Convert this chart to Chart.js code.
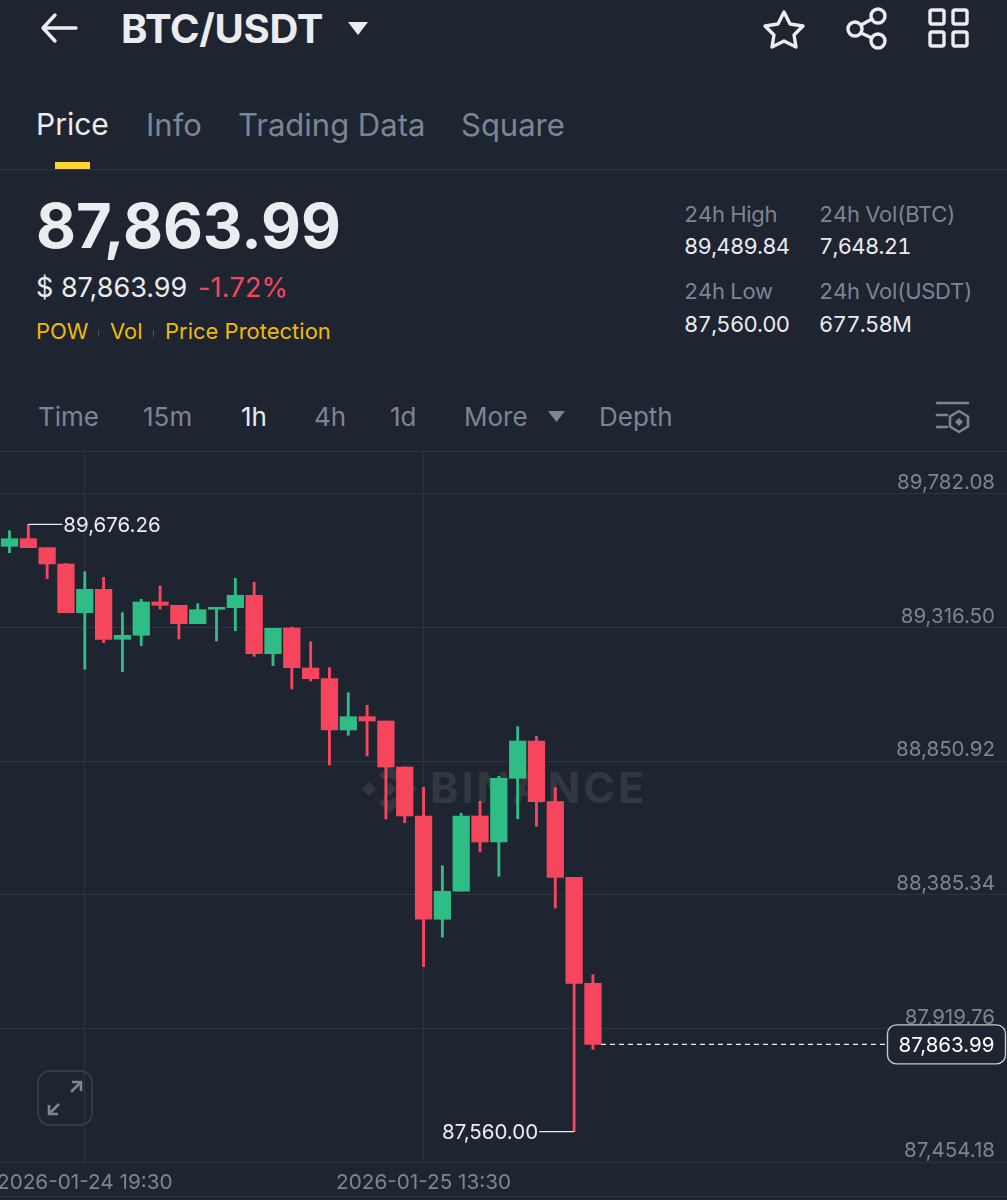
<!DOCTYPE html>
<html>
<head>
<meta charset="utf-8">
<title>BTC/USDT</title>
<script src="https://cdn.jsdelivr.net/npm/chart.js@4/dist/chart.umd.min.js"></script>
<style>
  html, body { margin: 0; padding: 0; background: #1f2530; }
  body { position: relative; width: 1007px; height: 1200px; overflow: hidden; font-family: Inter, sans-serif; }
  .t { position: absolute; white-space: nowrap; line-height: 1; transform: translateY(-50%); }
  .grey { color: #7d8492; }
  .white { color: #eaecef; }
  .yellow { color: #f0b90b; }
  .line { position: absolute; left: 0; width: 1007px; height: 1px; background: #2e343f; }
  svg { position: absolute; overflow: visible; }
  canvas { position: absolute; left: 0; top: 451px; display: block; }
  .tab { font-size: 31px; top: 124px; }
  .res { font-size: 26px; top: 417px; }
  .stat { font-size: 22px; font-variant-numeric: tabular-nums; letter-spacing: -0.3px; }
  .stat.white { letter-spacing: -0.7px; }
</style>
</head>
<body>
<svg style="left:0;top:0" width="1007" height="451" fill="none" stroke="#eaecef" stroke-width="3.4" stroke-linecap="round" stroke-linejoin="round">
  <path d="M76 28H43M55 15L43 28L55 41"/>
  <path d="M348 22H368L358 35Z" fill="#eaecef" stroke="none"/>
  <path d="M784 12L790 24L803 26L794 35L796 47L784 41L772 47L774 35L765 26L778 24Z"/>
  <circle cx="855" cy="29" r="7"/><circle cx="878" cy="16" r="7"/><circle cx="878" cy="41" r="7"/>
  <path d="M861 25L872 19M861 33L872 38"/>
  <rect x="930" y="10" width="14" height="14" rx="2"/><rect x="953" y="10" width="14" height="14" rx="2"/>
  <rect x="930" y="32" width="14" height="14" rx="2"/><rect x="953" y="32" width="14" height="14" rx="2"/>
  <path d="M548 411H565L556.5 422Z" fill="#7d8492" stroke="none"/>
  <g stroke="#7d8492" stroke-width="2.6">
    <path d="M937 403H968M937 415H947M937 427H947"/>
    <path d="M959 411L968 416.5V426.5L959 432L950 426.5V416.5Z"/>
  </g>
  <path d="M959 418L963 422L959 426L955 422Z" fill="#7d8492" stroke="none"/>
</svg>

<div class="t white" style="left:121px;top:29px;font-size:40px;font-weight:700;letter-spacing:-0.3px">BTC/USDT</div>
<div class="t tab white" style="left:36px;font-size:30px">Price</div>
<div class="t tab grey" style="left:146px">Info</div>
<div class="t tab grey" style="left:238px">Trading Data</div>
<div class="t tab grey" style="left:461px">Square</div>
<div style="position:absolute;left:55px;top:162px;width:35px;height:7px;background:#fcd535"></div>
<div class="line" style="top:169px"></div>

<div class="t white" style="left:36px;top:226px;font-size:61.5px;font-weight:700">87,863.99</div>
<div class="t white" style="left:36px;top:287px;font-size:27px">$ 87,863.99</div>
<div class="t" style="left:198px;top:287px;font-size:27px;letter-spacing:0.2px;color:#f6465d">-1.72%</div>
<div class="t yellow" style="left:36px;top:331px;font-size:22px">POW</div>
<div class="t yellow" style="left:110px;top:331px;font-size:22px">Vol</div>
<div class="t yellow" style="left:165px;top:331px;font-size:22px">Price Protection</div>
<div style="position:absolute;left:98px;top:330px;width:1px;height:7px;background:#4a505c"></div>
<div style="position:absolute;left:153px;top:330px;width:1px;height:7px;background:#4a505c"></div>

<div class="t stat grey" style="left:684px;top:214px">24h High</div>
<div class="t stat grey" style="left:819px;top:214px">24h Vol(BTC)</div>
<div class="t stat white" style="left:684px;top:246px">89,489.84</div>
<div class="t stat white" style="left:819px;top:246px">7,648.21</div>
<div class="t stat grey" style="left:684px;top:291px">24h Low</div>
<div class="t stat grey" style="left:819px;top:291px">24h Vol(USDT)</div>
<div class="t stat white" style="left:684px;top:324px">87,560.00</div>
<div class="t stat white" style="left:819px;top:324px">677.58M</div>

<div class="t res grey" style="left:38px">Time</div>
<div class="t res grey" style="left:143px">15m</div>
<div class="t res white" style="left:241px">1h</div>
<div class="t res grey" style="left:314px">4h</div>
<div class="t res grey" style="left:390px">1d</div>
<div class="t res grey" style="left:464px">More</div>
<div class="t res grey" style="left:599px">Depth</div>
<div class="line" style="top:451px"></div>
<div class="line" style="top:1196px"></div>

<!-- watermark sits under the canvas -->
<svg style="left:362px;top:765px" width="56" height="50" fill="#323842">
  <path d="M27.5 0L38 10L32 16L27.5 11.5L23 16L17 10Z"/>
  <path d="M27.5 48L38 38L32 32L27.5 36.5L23 32L17 38Z"/>
  <path d="M7 17L14 24L7 31L0 24Z"/><path d="M48 17L55 24L48 31L41 24Z"/>
  <path d="M27.5 17L34.5 24L27.5 31L20.5 24Z"/>
</svg>
<div class="t" style="left:430px;top:787px;font-size:43px;font-weight:700;letter-spacing:3px;color:#323842">BINANCE</div>

<canvas id="klineChart" width="1007" height="749"></canvas>

<div style="position:absolute;left:37px;top:1070px;width:52px;height:52px;border:2px solid #353b46;border-radius:13px"></div>
<svg style="left:37px;top:1070px" width="56" height="56" fill="none" stroke="#7d8492" stroke-width="2.6">
  <path d="M22 34L12 44M12 35V44H21M34 22L44 12M35 12H44V21"/>
</svg>

<script>
const BG_COLOR = '#1f2530';
const GRID_COLOR = '#2e343f';
const UP_COLOR = '#2ebd85';
const DOWN_COLOR = '#f6465d';
const AXIS_TEXT = '#7d8492';
const LABEL_TEXT = '#eaecef';
const FONT = 'Inter, sans-serif';

const opens = [89599.8, 89626.3, 89595.0, 89538.2, 89368.4, 89450.0, 89275.7, 89289.7, 89405.7, 89394.2, 89330.1, 89380.3, 89385.9, 89429.1, 89225.6, 89315.1, 89175.7, 89138.4, 88959.7, 89006.0, 88991.0, 88830.7, 88660.0, 88300.0, 88397.6, 88660.0, 88569.4, 88791.3, 88921.3, 88709.8, 88446.3, 88076.9];
const closes = [89626.3, 89595.0, 89538.2, 89368.4, 89450.0, 89275.7, 89289.7, 89405.7, 89394.2, 89330.1, 89378.9, 89387.3, 89429.1, 89225.6, 89314.1, 89176.8, 89138.4, 88959.7, 89006.0, 88991.0, 88830.7, 88660.0, 88300.0, 88397.6, 88660.0, 88569.4, 88791.3, 88921.3, 88709.8, 88446.3, 88076.9, 87863.99];
const highs = [89654.2, 89676.26, 89595.0, 89539.9, 89511.3, 89491.8, 89368.4, 89415.1, 89461.5, 89394.2, 89399.8, 89387.3, 89488.3, 89474.4, 89314.1, 89318.6, 89267.4, 89176.8, 89089.6, 89045.7, 88991.0, 88830.7, 88760.0, 88486.8, 88669.4, 88711.2, 88798.3, 88971.2, 88937.7, 88758.6, 88446.3, 88106.9];
const lows = [89577.5, 89595.0, 89486.9, 89368.4, 89171.2, 89263.9, 89162.8, 89253.4, 89381.3, 89276.8, 89330.1, 89269.8, 89305.7, 89216.5, 89183.7, 89102.5, 89130.4, 88837.7, 88941.2, 88869.1, 88649.5, 88636.6, 88134.8, 88238.3, 88397.6, 88534.5, 88449.8, 88650.5, 88624.1, 88339.4, 87560.00, 87846.9];

const priceTicks = [89782.08, 89316.50, 88850.92, 88385.34, 87919.76, 87454.18];
const timeTickIndexes = [4, 22];
const timeTickLabels = ['2026-01-24 19:30', '2026-01-25 13:30'];
const highMark = { index: 1, value: 89676.26 };
const lowMark = { index: 30, value: 87560.00 };
const lastPrice = 87863.99;

function money(v) {
    return v.toLocaleString('en-US', { minimumFractionDigits: 2, maximumFractionDigits: 2 });
}

const candleColors = opens.map((o, i) => closes[i] >= o ? UP_COLOR : DOWN_COLOR);

const markersPlugin = {
    id: 'markers',
    afterDatasetsDraw(chart) {
        const { ctx, scales: { x, y } } = chart;
        ctx.save();
        ctx.font = '20.5px ' + FONT;
        ctx.textBaseline = 'middle';

        // high marker
        const hx = x.getPixelForValue(highMark.index);
        const hy = y.getPixelForValue(highMark.value);
        ctx.strokeStyle = LABEL_TEXT;
        ctx.lineWidth = 1.2;
        ctx.beginPath();
        ctx.moveTo(hx, hy);
        ctx.lineTo(hx + 34, hy);
        ctx.stroke();
        ctx.fillStyle = LABEL_TEXT;
        ctx.textAlign = 'left';
        ctx.fillText(money(highMark.value), hx + 35, hy + 1);

        // low marker
        const lx = x.getPixelForValue(lowMark.index);
        const ly = y.getPixelForValue(lowMark.value);
        ctx.beginPath();
        ctx.moveTo(lx, ly);
        ctx.lineTo(lx - 35, ly);
        ctx.stroke();
        ctx.textAlign = 'right';
        ctx.fillText(money(lowMark.value), lx - 36, ly + 1);

        // last price line and box
        const px = x.getPixelForValue(opens.length - 1) + 8;
        const py = y.getPixelForValue(lastPrice);
        ctx.setLineDash([5, 4]);
        ctx.beginPath();
        ctx.moveTo(px, py);
        ctx.lineTo(887, py);
        ctx.stroke();
        ctx.setLineDash([]);
        ctx.beginPath();
        ctx.roundRect(887.5, py - 19.5, 118, 39, 9);
        ctx.fillStyle = BG_COLOR;
        ctx.fill();
        ctx.strokeStyle = '#c5c9d0';
        ctx.lineWidth = 1.4;
        ctx.stroke();
        ctx.fillStyle = '#ffffff';
        ctx.textAlign = 'center';
        ctx.fillText(money(lastPrice), 946.5, py + 1);
        ctx.restore();
    }
};

new Chart(document.getElementById('klineChart'), {
    type: 'bar',
    data: {
        datasets: [
            {
                label: 'Wick',
                data: opens.map((_, i) => ({ x: i, y: [lows[i], highs[i]] })),
                backgroundColor: candleColors,
                barThickness: 2.2,
                grouped: false,
                order: 2
            },
            {
                label: 'Body',
                data: opens.map((o, i) => ({ x: i, y: [o, closes[i]] })),
                backgroundColor: candleColors,
                barThickness: 16.6,
                grouped: false,
                order: 1
            }
        ]
    },
    options: {
        responsive: false,
        animation: false,
        layout: { padding: 0 },
        plugins: { legend: { display: false }, title: { display: false }, tooltip: { enabled: false } },
        scales: {
            x: {
                type: 'linear',
                offset: false,
                min: -0.505,
                max: 53,
                border: { display: false },
                grid: { color: GRID_COLOR, lineWidth: 1, drawTicks: false, offset: false },
                ticks: {
                    color: AXIS_TEXT,
                    font: { family: FONT, size: 20.7 },
                    padding: 8,
                    autoSkip: false,
                    maxRotation: 0,
                    minRotation: 0,
                    callback: value => timeTickLabels[timeTickIndexes.indexOf(value)]
                },
                afterBuildTicks: scale => { scale.ticks = timeTickIndexes.map(value => ({ value })); },
                afterFit: scale => { scale.height = 38; scale.paddingLeft = 0; scale.paddingRight = 0; }
            },
            y: {
                position: 'right',
                min: 87454.18,
                max: 89931.9,
                border: { display: false },
                grid: { color: GRID_COLOR, lineWidth: 1, drawTicks: false },
                ticks: {
                    color: AXIS_TEXT,
                    font: { family: FONT, size: 20.5 },
                    mirror: true,
                    padding: -12,
                    labelOffset: -11,
                    callback: value => money(value)
                },
                afterBuildTicks: scale => { scale.ticks = priceTicks.map(value => ({ value })); },
                afterFit: scale => { scale.width = 0; scale.paddingTop = 0; scale.paddingBottom = 0; }
            }
        }
    },
    plugins: [markersPlugin]
});
</script>
</body>
</html>
